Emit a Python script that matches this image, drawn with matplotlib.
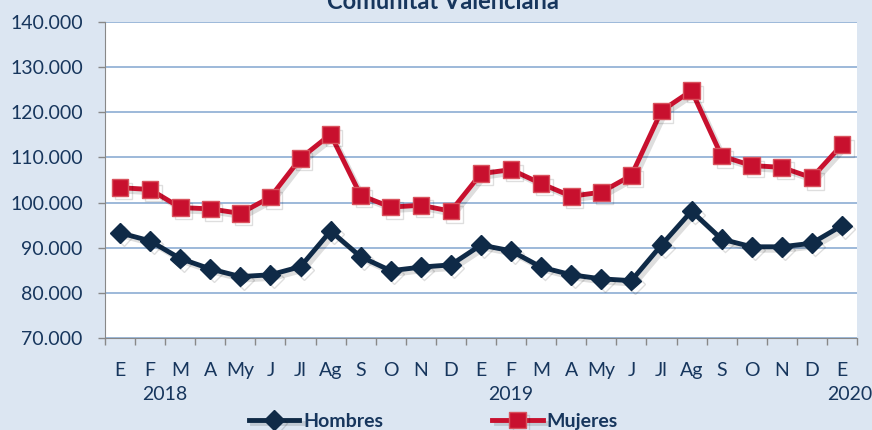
import matplotlib.pyplot as plt
import matplotlib.patheffects as pe
import numpy as np

# months from E 2018 to E 2020
meses = ['E', 'F', 'M', 'A', 'My', 'J', 'Jl', 'Ag', 'S', 'O', 'N', 'D',
         'E', 'F', 'M', 'A', 'My', 'J', 'Jl', 'Ag', 'S', 'O', 'N', 'D', 'E']
anios = ['2018', '2019', '2020']

hombres = [93.3, 91.5, 87.6, 85.3, 83.6, 84.0, 85.8, 93.7, 88.0, 84.9, 85.7, 86.2,
           90.6, 89.3, 85.7, 84.0, 83.1, 82.7, 90.6, 98.1, 91.9, 90.2, 90.2, 91.0, 94.9]
mujeres = [103.3, 102.9, 98.9, 98.6, 97.6, 101.2, 109.8, 115.1, 101.6, 99.0, 99.4, 98.1,
           106.4, 107.3, 104.2, 101.4, 102.3, 106.0, 120.3, 124.8, 110.3, 108.2, 107.8, 105.5, 112.8]

bg = '#dce6f2'
txt = '#17365d'
c_h = '#0f2a47'
c_m = '#c8102e'

plt.rcParams['font.family'] = ['Lato', 'DejaVu Sans']

fig = plt.figure(figsize=(8.72, 4.3), dpi=100, facecolor=bg)
ax = fig.add_axes([0.1204, 0.214, 0.8624, 0.7348])
ax.set_facecolor('white')

x = np.arange(len(meses))
shadow = [pe.SimpleLineShadow(offset=(2.5, -2.5), alpha=0.13, shadow_color='black'), pe.Normal()]
ax.plot(x, hombres, color=c_h, lw=3.5, marker='D', ms=10, mec=c_h, mfc=c_h,
        label='Hombres', path_effects=shadow, zorder=3)
ax.plot(x, mujeres, color=c_m, lw=3.5, marker='s', ms=12, mec='#d9535e', mew=1, mfc=c_m,
        label='Mujeres', path_effects=shadow, zorder=3)

ax.set_xlim(-0.5, len(meses) - 0.5)
ax.set_ylim(70, 140)
yt = np.arange(70, 141, 10)
ax.set_yticks(yt)
ax.set_yticklabels(['{}.000'.format(v) for v in yt], fontsize=14, color=txt)
ax.yaxis.grid(True, color='#95b3d7', lw=1.3)
ax.set_axisbelow(True)

ax.set_xticks(x)
ax.set_xticklabels(meses, fontsize=14, color=txt)
ax.tick_params(axis='x', length=0, pad=17)
ax.set_xticks(np.arange(-0.5, len(meses)), minor=True)
ax.tick_params(axis='x', which='minor', length=5, color='#888888', width=1)
ax.tick_params(axis='y', length=5, color='#888888', width=1, pad=11)

for s in ['top', 'right']:
    ax.spines[s].set_visible(False)
ax.spines['left'].set_color('#888888')
ax.spines['bottom'].set_color('#888888')

# year labels
ty = -0.18
ax.text(1.5, ty, anios[0], transform=ax.get_xaxis_transform(), ha='center', va='center', fontsize=14, color=txt)
ax.text(13, ty, anios[1], transform=ax.get_xaxis_transform(), ha='center', va='center', fontsize=14, color=txt)
ax.text(24.25, ty, anios[2], transform=ax.get_xaxis_transform(), ha='center', va='center', fontsize=14, color=txt)

fig.text(0.508, 0.996, 'Comunitat Valenciana', ha='center', va='center', fontsize=17,
         fontweight='bold', color=txt)

leg = fig.legend(loc='lower center', bbox_to_anchor=(0.497, -0.04), ncol=2, frameon=False,
                 fontsize=14, handlelength=2.6, columnspacing=5.6, handletextpad=0.2)
for t in leg.get_texts():
    t.set_color(txt)
    t.set_fontweight('bold')

fig.savefig('out.png', dpi=100, facecolor=bg)
